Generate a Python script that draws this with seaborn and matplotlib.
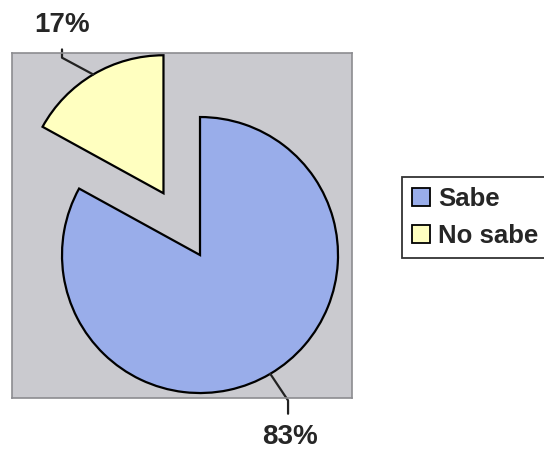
import numpy as np
import matplotlib
matplotlib.use("Agg")
import matplotlib.pyplot as plt
import seaborn as sns
from matplotlib.patches import Patch

# data
categories = ["Sabe", "No sabe"]
shares = [83, 17]
labels = ["83%", "17%"]
colors = ["#99adea", "#ffffc0"]

sns.set_style("white")
plt.rcParams['font.family'] = ['Liberation Sans', 'DejaVu Sans']

fig = plt.figure(figsize=(5.44, 4.55), dpi=100)
ax = fig.add_axes([12 / 544, 57 / 455, 340 / 544, 345 / 455])

wedges, _ = ax.pie(shares, colors=colors, startangle=90, counterclock=False,
                   explode=[0, 0.52], radius=1,
                   wedgeprops=dict(edgecolor="black", linewidth=1.6))

# pie() turns the frame off, bring back the grey plot area
ax.set_frame_on(True)
ax.set_facecolor("#cacacf")
ax.set_xlim(-1.362, 1.101)
ax.set_ylim(-1.036, 1.464)
ax.set_aspect("equal")
ax.set_xticks([])
ax.set_yticks([])
for s in ax.spines.values():
    s.set_visible(True)
    s.set_color("#8c8c90")
    s.set_linewidth(1.2)

# leader lines and percentage labels
elbows = [(0.638, -1.054, -1.15), (-1.0, 1.43, 1.49)]
text_pos = [(0.652, -1.32), (-1.0, 1.67)]
for w, lab, (ex, ey, ey2), (tx, ty) in zip(wedges, labels, elbows, text_pos):
    mid = np.deg2rad((w.theta1 + w.theta2) / 2)
    cx, cy = w.center
    px, py = cx + np.cos(mid), cy + np.sin(mid)
    ax.plot([px, ex, ex], [py, ey, ey2], color="#222222", lw=1.6, clip_on=False)
    ax.text(tx, ty, lab, ha="center", va="center", fontsize=20,
            fontweight="bold", color="#262626", clip_on=False)

handles = [Patch(facecolor=c, edgecolor="black", linewidth=1.3) for c in colors]
leg = fig.legend(handles, categories, loc="upper left",
                 bbox_to_anchor=(402 / 544, 1 - 177 / 455),
                 prop=dict(weight="bold", size=18.5), frameon=True,
                 fancybox=False, edgecolor="black", handlelength=0.7,
                 handleheight=0.7, handletextpad=0.3, borderpad=0.4,
                 labelspacing=0.5, borderaxespad=0)
leg.get_frame().set_linewidth(1.3)
for t in leg.get_texts():
    t.set_color("#262626")

fig.savefig("out.png", dpi=100)
